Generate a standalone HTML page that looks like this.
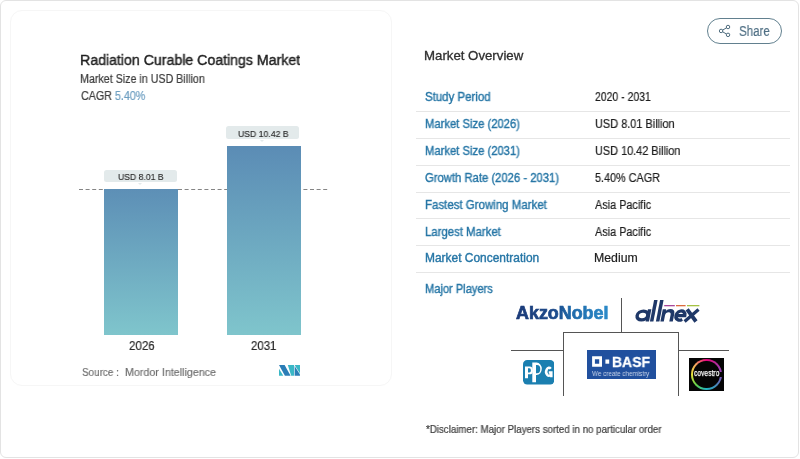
<!DOCTYPE html>
<html><head><meta charset="utf-8">
<style>
html,body{margin:0;padding:0;width:800px;height:459px;overflow:hidden;background:#fff;}
body{position:relative;font-family:"Liberation Sans",sans-serif;}
.a{position:absolute;white-space:pre;line-height:1;transform-origin:0 0;will-change:transform;}
#outer{position:absolute;left:0;top:0;width:797px;height:456px;border:1.5px solid #e3e3e3;border-radius:6px;}
#card{position:absolute;left:10px;top:10px;width:380px;height:374px;border:1px solid #f6f6f6;border-radius:12px;}
.bar{position:absolute;}
.lbl{position:absolute;background:#e3eaeb;border-radius:2.5px;}
.lbl:after{content:"";position:absolute;left:50%;bottom:-2.5px;margin-left:-2.5px;border-left:2.5px solid transparent;border-right:2.5px solid transparent;border-top:2.5px solid #e3eaeb;}
.sep{position:absolute;left:416px;width:374px;height:1px;background:#e6e6e6;}
.ln{position:absolute;background:#555;}
</style></head>
<body>
<div id="outer"></div>
<div id="card"></div>

<svg class="a" style="left:0;top:0" width="800" height="459">
<line x1="79" y1="189.5" x2="328" y2="189.5" stroke="#858585" stroke-width="1" stroke-dasharray="4 2.6"/>
</svg>

<div class="bar" style="left:104.2px;top:189.3px;width:73.6px;height:145.4px;background:linear-gradient(#5d8fb6,#7fc5cc);"></div>
<div class="bar" style="left:227px;top:146.1px;width:74px;height:188.6px;background:linear-gradient(#5b8cb5,#7fc5cc);"></div>

<div class="lbl" style="left:104.1px;top:169.9px;width:72.9px;height:12.5px;"></div>
<div class="lbl" style="left:226.4px;top:126px;width:72.4px;height:13px;"></div>



<div style="position:absolute;left:707px;top:18px;width:73px;height:24px;border:1.2px solid #62808f;border-radius:13px;"></div>
<svg class="a" style="left:718px;top:24px" width="14" height="14" viewBox="0 0 14 14">
<g fill="none" stroke="#4d6b7d" stroke-width="1">
<circle cx="10" cy="3" r="1.75"/><circle cx="3.1" cy="6.95" r="1.75"/><circle cx="10" cy="10.85" r="1.75"/>
<line x1="4.6" y1="6.1" x2="8.5" y2="3.85"/><line x1="4.6" y1="7.8" x2="8.5" y2="10"/>
</g></svg>

<div class="sep" style="top:110.7px"></div>
<div class="sep" style="top:137.6px"></div>
<div class="sep" style="top:164.5px"></div>
<div class="sep" style="top:191.5px"></div>
<div class="sep" style="top:218.4px"></div>
<div class="sep" style="top:245.3px"></div>
<div class="sep" style="top:272.2px"></div>

<!-- logo grid lines -->
<div class="ln" style="left:621px;top:298px;width:1px;height:34px;"></div>
<div class="ln" style="left:563px;top:332px;width:116px;height:1px;"></div>
<div class="ln" style="left:511px;top:350px;width:52px;height:1px;"></div>
<div class="ln" style="left:563px;top:332px;width:1px;height:64px;"></div>
<div class="ln" style="left:678px;top:332px;width:1px;height:64px;"></div>
<div class="ln" style="left:678px;top:350px;width:51px;height:1px;"></div>

<!-- AkzoNobel -->
<svg class="a" style="left:500px;top:295px" width="120" height="35" viewBox="500 295 120 35">
<defs><linearGradient id="akg" x1="515" y1="0" x2="609" y2="0" gradientUnits="userSpaceOnUse">
<stop offset="0" stop-color="#1b3a78"/><stop offset="0.42" stop-color="#1c4a8a"/><stop offset="0.6" stop-color="#1f6aaa"/><stop offset="1" stop-color="#2b8bc9"/></linearGradient></defs>
<text x="516" y="319.3" font-family="Liberation Sans" font-weight="bold" font-size="17.6" fill="url(#akg)" stroke="url(#akg)" stroke-width="0.7" textLength="92.5" lengthAdjust="spacingAndGlyphs">AkzoNobel</text>
</svg>

<!-- allnex -->
<svg class="a" style="left:630px;top:295px" width="75" height="30" viewBox="0 0 75 30">
<g transform="translate(0 26.5) skewX(-11) translate(0 -26.5)" fill="#1f3868">
<ellipse cx="11.3" cy="20.5" rx="5.3" ry="4.4" fill="none" stroke="#1f3868" stroke-width="3.4"/>
<rect x="15.6" y="14.3" width="3.4" height="12.2"/>
<rect x="19.9" y="5" width="3.5" height="21.5"/>
<rect x="25.9" y="5" width="3.5" height="21.5"/>
<path d="M30.4 14.3 H33.8 V15.8 Q35.2 14 37.8 14 Q42.8 14 42.8 19 V26.5 H39.3 V19.8 Q39.3 17.2 37 17.2 Q33.8 17.2 33.8 20.2 V26.5 H30.4 Z"/>
<path fill="none" stroke="#1f3868" stroke-width="3.3" d="M44.8 20.6 H53.7 A4.5 4.6 0 1 0 51.8 24.3"/>
<path fill="none" stroke="#1f3868" stroke-width="3.6" d="M54.8 14.4 L66 26.5 M66.2 14.4 L54.6 26.5"/>
</g>
<rect x="34.2" y="10" width="10.6" height="1.3" fill="#a8489a"/>
<rect x="46" y="10" width="9.6" height="1.3" fill="#dc6b3e"/>
<rect x="57" y="10" width="12.4" height="1.3" fill="#a5c244"/>
</svg>

<!-- PPG -->
<svg class="a" style="left:522.9px;top:359.8px" width="31.4" height="24.5" viewBox="0 0 31.4 24.5">
<rect width="31.4" height="24.5" rx="4.2" fill="#1b7fb0"/>
<g fill="#fff" fill-rule="evenodd">
<path d="M2 6.5 H6.6 A3.3 3.9 0 0 1 6.6 14.3 H5 V18.2 H2 Z M5 8.3 H6.4 A1.5 2.1 0 0 1 6.4 12.5 H5 Z"/>
<path d="M9.3 2.6 H13.6 A5.2 6.25 0 0 1 13.6 15.1 H13 V22.2 H9.3 Z M13 4.9 H14 A3.3 4.2 0 0 1 14 13.3 H13 Z"/>
</g>
<path fill="none" stroke="#fff" stroke-width="2.5" d="M27.8 8.7 A2.75 4 0 1 0 28.35 13.8 M28.35 17.3 V12.4 H25.8"/>
</svg>

<!-- BASF -->
<div style="position:absolute;left:587px;top:350.3px;width:68.7px;height:28.5px;background:#21509e;"></div>
<svg class="a" style="left:587px;top:350.3px" width="25" height="20" viewBox="0 0 25 20"><path fill="#fff" fill-rule="evenodd" d="M5.1 6.3 H15 V16.8 H5.1 Z M7.9 9.2 V13.8 H12.2 V9.2 Z"/><rect x="18.4" y="9.5" width="3.8" height="4.2" fill="#fff"/></svg>
<div class="a" style="left:612.3px;top:353.6px;font-size:15px;font-weight:bold;color:#fff;transform:scaleX(0.93);-webkit-text-stroke:0.3px #fff;">BASF</div>
<div class="a" style="left:592px;top:369.6px;font-size:7.2px;color:#c9d5ea;transform:scaleX(0.875);">We create chemistry</div>

<!-- covestro -->
<div style="position:absolute;left:689px;top:358.1px;width:35.3px;height:33.4px;background:#050505;"></div>
<div style="position:absolute;left:690.9px;top:358.6px;width:31.2px;height:31.5px;border-radius:50%;background:conic-gradient(#e8007e,#b52a9a 40deg,#8b4ac0 90deg,#4a86b8 135deg,#1fb6c6 180deg,#62d048 225deg,#e6e23a 270deg,#f6a060 315deg,#e8007e 360deg);"></div>
<div style="position:absolute;left:693.4px;top:361.1px;width:26.2px;height:26.5px;border-radius:50%;background:#050505;"></div>
<div style="position:absolute;left:716px;top:371.5px;width:8px;height:5px;background:#050505;"></div>
<div class="a" style="left:694px;top:369px;font-size:8.6px;color:#fff;transform:scaleX(0.78);-webkit-text-stroke:0.25px #fff;">covestro</div>

<!-- mordor logo -->
<svg class="a" style="left:279px;top:365px" width="21" height="10.7" viewBox="0 0 21 10.7">
<polygon points="0,3.7 0,10.7 4.3,10.7" fill="#3ab7c6"/>
<polygon points="0,0 5.6,0 11.6,10.7 5.9,10.7" fill="#2b7db6"/>
<polygon points="8.8,0 15,0 15,10.7 12.2,10.7" fill="#3ab7c6"/>
<polygon points="15.6,0 21,0 21,8.6" fill="#3ab7c6"/>
<polygon points="15.6,1 21,9.6 21,10.7 15.6,10.7" fill="#2b7db6"/>
</svg>

<div class="a" style="left:79.52px;top:53.00px;font-size:14.39px;color:#1f1f1f;transform:scaleX(0.984);-webkit-text-stroke:0.42px #1f1f1f;">Radiation Curable Coatings Market</div>
<div class="a" style="left:79.62px;top:73.00px;font-size:12.21px;color:#3d3d3d;transform:scaleX(0.876);-webkit-text-stroke:0.22px #3d3d3d;">Market Size in USD Billion</div>
<div class="a" style="left:80.50px;top:90.00px;font-size:12.79px;color:#3d3d3d;transform:scaleX(0.838);-webkit-text-stroke:0.22px #3d3d3d;">CAGR <span style="color:#6d9ec1;-webkit-text-stroke:0.22px #6d9ec1">5.40%</span></div>
<div class="a" style="left:117.80px;top:172.00px;font-size:9.45px;color:#2a2a2a;transform:scaleX(0.914);-webkit-text-stroke:0.15px #2a2a2a;">USD 8.01 B</div>
<div class="a" style="left:238.10px;top:129.00px;font-size:9.45px;color:#2a2a2a;transform:scaleX(0.918);-webkit-text-stroke:0.15px #2a2a2a;">USD 10.42 B</div>
<div class="a" style="left:128.50px;top:340.00px;font-size:12.94px;color:#2a2a2a;transform:scaleX(0.893);-webkit-text-stroke:0.2px #2a2a2a;">2026</div>
<div class="a" style="left:251.10px;top:340.00px;font-size:12.94px;color:#2a2a2a;transform:scaleX(0.882);-webkit-text-stroke:0.2px #2a2a2a;">2031</div>
<div class="a" style="left:81.70px;top:367.00px;font-size:11.05px;color:#6e6e6e;transform:scaleX(0.897);-webkit-text-stroke:0.18px #6e6e6e;">Source :</div>
<div class="a" style="left:124.80px;top:367.00px;font-size:11.05px;color:#6e6e6e;transform:scaleX(0.969);-webkit-text-stroke:0.18px #6e6e6e;">Mordor Intelligence</div>
<div class="a" style="left:738.80px;top:25.00px;font-size:13.81px;color:#4f6f84;transform:scaleX(0.835);-webkit-text-stroke:0.2px #4f6f84;">Share</div>
<div class="a" style="left:424.46px;top:50.00px;font-size:12.79px;color:#2f2f2f;transform:scaleX(1.035);-webkit-text-stroke:0.3px #2f2f2f;">Market Overview</div>
<div class="a" style="left:424.80px;top:92.00px;font-size:11.92px;color:#2676a6;transform:scaleX(0.962);-webkit-text-stroke:0.38px #2676a6;">Study Period</div>
<div class="a" style="left:424.80px;top:119.00px;font-size:11.92px;color:#2676a6;transform:scaleX(0.944);-webkit-text-stroke:0.38px #2676a6;">Market Size (2026)</div>
<div class="a" style="left:424.80px;top:146.00px;font-size:11.92px;color:#2676a6;transform:scaleX(0.944);-webkit-text-stroke:0.38px #2676a6;">Market Size (2031)</div>
<div class="a" style="left:424.80px;top:173.00px;font-size:11.92px;color:#2676a6;transform:scaleX(0.946);-webkit-text-stroke:0.38px #2676a6;">Growth Rate (2026 - 2031)</div>
<div class="a" style="left:424.80px;top:200.00px;font-size:11.92px;color:#2676a6;transform:scaleX(0.964);-webkit-text-stroke:0.38px #2676a6;">Fastest Growing Market</div>
<div class="a" style="left:424.80px;top:227.00px;font-size:11.92px;color:#2676a6;transform:scaleX(0.955);-webkit-text-stroke:0.38px #2676a6;">Largest Market</div>
<div class="a" style="left:424.80px;top:253.00px;font-size:11.92px;color:#2676a6;transform:scaleX(1.003);-webkit-text-stroke:0.38px #2676a6;">Market Concentration</div>
<div class="a" style="left:424.80px;top:284.00px;font-size:11.92px;color:#2676a6;transform:scaleX(0.932);-webkit-text-stroke:0.38px #2676a6;">Major Players</div>
<div class="a" style="left:595.30px;top:91.00px;font-size:12.21px;color:#1e1e1e;transform:scaleX(0.858);-webkit-text-stroke:0.2px #1e1e1e;">2020 - 2031</div>
<div class="a" style="left:595.30px;top:118.00px;font-size:12.21px;color:#1e1e1e;transform:scaleX(0.896);-webkit-text-stroke:0.2px #1e1e1e;">USD 8.01 Billion</div>
<div class="a" style="left:595.30px;top:145.00px;font-size:12.21px;color:#1e1e1e;transform:scaleX(0.893);-webkit-text-stroke:0.2px #1e1e1e;">USD 10.42 Billion</div>
<div class="a" style="left:595.30px;top:172.00px;font-size:12.21px;color:#1e1e1e;transform:scaleX(0.886);-webkit-text-stroke:0.2px #1e1e1e;">5.40% CAGR</div>
<div class="a" style="left:595.30px;top:199.00px;font-size:12.21px;color:#1e1e1e;transform:scaleX(0.890);-webkit-text-stroke:0.2px #1e1e1e;">Asia Pacific</div>
<div class="a" style="left:595.30px;top:226.00px;font-size:12.21px;color:#1e1e1e;transform:scaleX(0.890);-webkit-text-stroke:0.2px #1e1e1e;">Asia Pacific</div>
<div class="a" style="left:594.29px;top:252.00px;font-size:12.21px;color:#1e1e1e;transform:scaleX(1.007);-webkit-text-stroke:0.2px #1e1e1e;">Medium</div>
<div class="a" style="left:425.60px;top:425.00px;font-size:10.17px;color:#3c3c3c;transform:scaleX(0.957);-webkit-text-stroke:0.2px #3c3c3c;">*Disclaimer: Major Players sorted in no particular order</div>
</body></html>
